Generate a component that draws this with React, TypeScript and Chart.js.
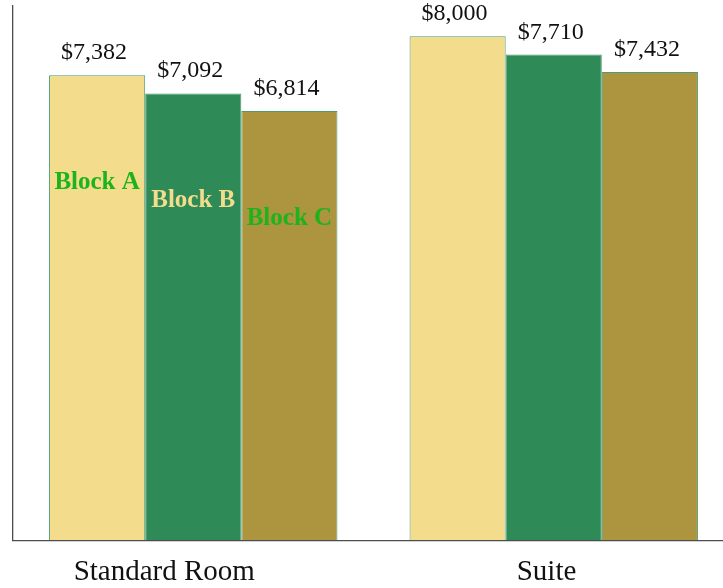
import React, { useEffect, useRef } from "react";
import { Chart, registerables } from "chart.js";

Chart.register(...registerables);

// ---- data ----
const categories: string[] = ["Standard Room", "Suite"];
const seriesNames: string[] = ["Block A", "Block B", "Block C"];
const blockA: number[] = [7382, 8000];
const blockB: number[] = [7092, 7710];
const blockC: number[] = [6814, 7432];
const yMax = 8480;

// ---- styles ----
const FONT = "'Liberation Serif', 'Times New Roman', serif";
const barColors = ["#f3dc8c", "#2e8b57", "#ad943e"];
const nameColors = ["#1db31d", "#f3dc8c", "#1db31d"];
const tickPad = [8, 2];

const barLabelPlugin = {
  id: "barLabels",
  afterDatasetsDraw(chart: any) {
    const ctx = chart.ctx;
    ctx.save();
    chart.data.datasets.forEach((ds: any, di: number) => {
      const meta = chart.getDatasetMeta(di);
      meta.data.forEach((bar: any, i: number) => {
        const v = ds.data[i] as number;
        ctx.font = `24px ${FONT}`;
        ctx.fillStyle = "#111111";
        ctx.textAlign = "center";
        ctx.textBaseline = "alphabetic";
        ctx.fillText("$" + v.toLocaleString("en-US"), bar.x - 3, bar.y - 16);
        if (i === 0) {
          ctx.font = `bold 25px ${FONT}`;
          ctx.fillStyle = nameColors[di];
          ctx.fillText(ds.label, bar.x, bar.y + 114);
        }
      });
    });
    ctx.restore();
  },
};

export default function App() {
  const canvasRef = useRef<HTMLCanvasElement | null>(null);

  useEffect(() => {
    if (!canvasRef.current) return;
    const series = [blockA, blockB, blockC];
    const chart = new Chart(canvasRef.current, {
      type: "bar",
      data: {
        labels: categories,
        datasets: series.map((d, i) => ({
          label: seriesNames[i],
          data: d,
          backgroundColor: barColors[i],
          borderColor: "rgba(46,139,87,0.85)",
          borderWidth: 1,
          categoryPercentage: 0.8,
          barPercentage: 1.0,
        })),
      },
      options: {
        animation: false,
        responsive: true,
        maintainAspectRatio: false,
        layout: { padding: { left: 13, right: 6, top: 6, bottom: 0 } },
        plugins: {
          legend: { display: false },
          tooltip: { enabled: false },
        },
        scales: {
          x: {
            grid: { display: false, drawTicks: false },
            border: { display: true, color: "#4d4d4d", width: 1.3 },
            ticks: {
              color: "#111111",
              font: { family: FONT, size: 29 },
              padding: 15,
              maxRotation: 0,
              callback: (_v: any, i: number) => categories[i] + " ".repeat(tickPad[i]),
            },
          },
          y: {
            min: 0,
            max: yMax,
            grid: { display: false, drawTicks: false },
            border: { display: true, color: "#4d4d4d", width: 1.3 },
            ticks: { display: false },
          },
        },
      },
      plugins: [barLabelPlugin],
    });
    return () => chart.destroy();
  }, []);

  return (
    <div
      style={{
        position: "absolute",
        left: 0,
        top: 0,
        width: 723,
        height: 588,
        overflow: "hidden",
        background: "#ffffff",
      }}
    >
      <div style={{ position: "relative", width: 740, height: 605 }}>
        <canvas ref={canvasRef} />
      </div>
    </div>
  );
}
